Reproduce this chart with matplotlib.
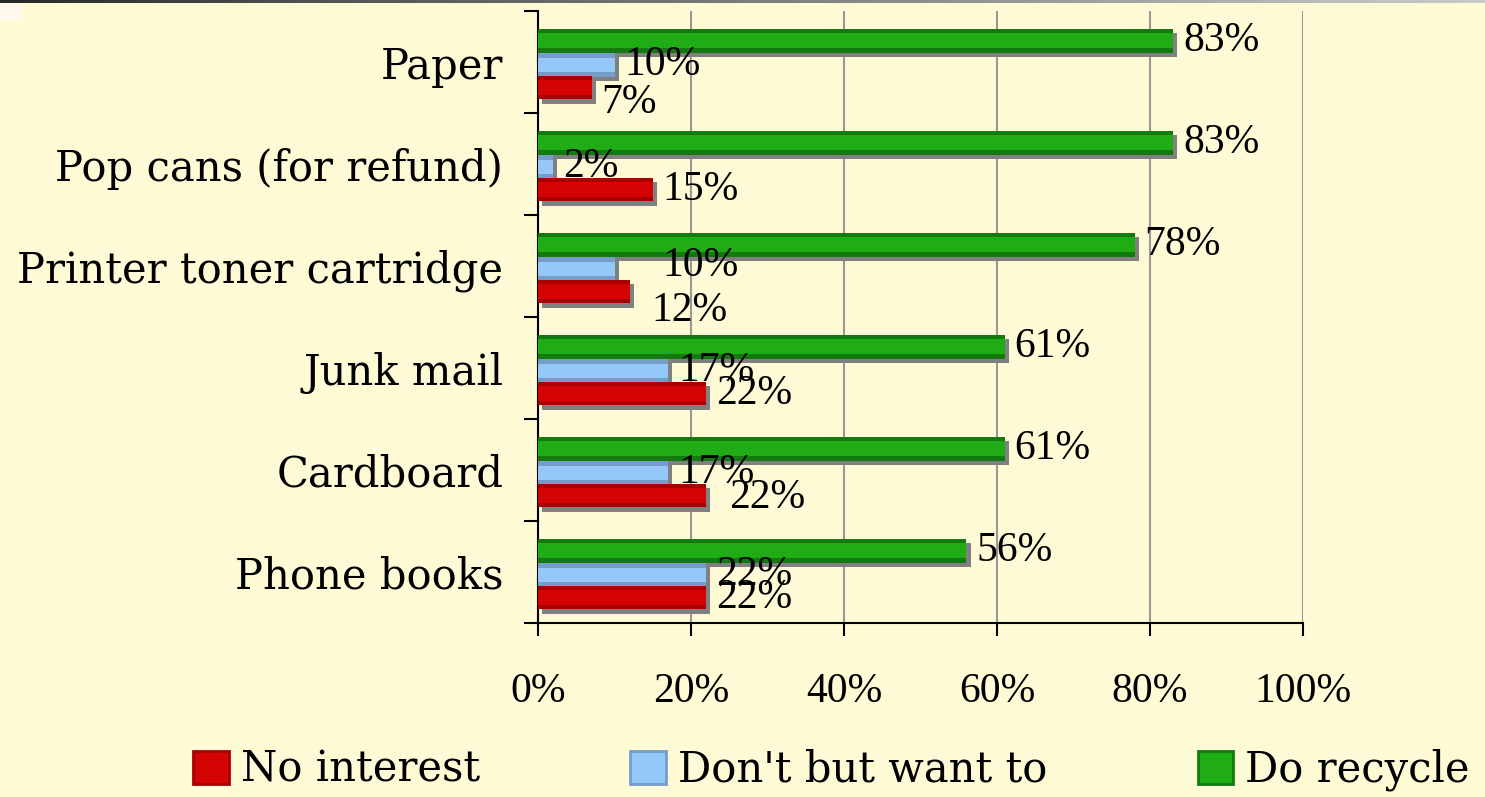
### IMPORTS
import matplotlib.pyplot as plt
import matplotlib.patheffects as pe
from matplotlib.patches import Patch, Rectangle
import numpy as np

### DATA
categories = ["Paper", "Pop cans (for refund)", "Printer toner cartridge",
              "Junk mail", "Cardboard", "Phone books"]
do_recycle = [83, 83, 78, 61, 61, 56]
want_to = [10, 2, 10, 17, 17, 22]
no_interest = [7, 15, 12, 22, 22, 22]
series_names = ["No interest", "Don't but want to", "Do recycle"]
xticks = [0, 20, 40, 60, 80, 100]

### STYLE
WORDS = ['DejaVu Serif']        # wide serif, close to the Palatino look of the original
NUMS = ['Liberation Serif']     # narrower figures
plt.rcParams['font.family'] = NUMS + WORDS
FS = 30
BG = "#FFFAD6"
# (dark edge, bright centre) per series
colours = {
    "Do recycle": ("#137A10", "#20AC14"),
    "Don't but want to": ("#759DC8", "#94C8F8"),
    "No interest": ("#A80000", "#D40404"),
}
offsets = {"Do recycle": -0.21, "Don't but want to": 0.03, "No interest": 0.25}
bar_h = 0.235
# hand tweaks for label placement, px (dx, dy) keyed by (series, row)
label_tweak = {
    ("No interest", 0): (0, 15),
    ("Don't but want to", 2): (38, -3),
    ("No interest", 2): (12, 19),
    ("No interest", 4): (13, 2),
}

fig = plt.figure(figsize=(14.85, 7.97), dpi=100, facecolor=BG)
ax = fig.add_axes([538 / 1485, 1 - 623 / 797, (1303 - 538) / 1485, (623 - 11) / 797])
ax.set_facecolor(BG)

# top strip (dark to light grey) + little box in the corner, like the slide it came from
strip = fig.add_axes([0, 1 - 3 / 797, 1, 3 / 797])
strip.imshow(np.linspace(0, 1, 256)[None, :], cmap="Greys_r", vmin=-0.25, vmax=1.6,
             aspect="auto", extent=(0, 1, 0, 1))
strip.set_axis_off()
fig.patches.append(Rectangle((0, 1 - 20 / 797), 22 / 1485, 17 / 797, transform=fig.transFigure,
                             facecolor="#FFF8EC", edgecolor="none"))

y = np.arange(len(categories))
shadow = [pe.withSimplePatchShadow(offset=(3, -3), shadow_rgbFace="#808080", alpha=1.0)]

for name, vals in [("Do recycle", do_recycle), ("Don't but want to", want_to),
                   ("No interest", no_interest)]:
    dark, bright = colours[name]
    yy = y + offsets[name]
    ax.barh(yy, vals, height=bar_h, color=dark, path_effects=shadow, zorder=3)
    ax.barh(yy, vals, height=bar_h * 0.62, color=bright, zorder=4)
    for i, v in enumerate(vals):
        dx, dy = label_tweak.get((name, i), (0, 0))
        ax.annotate(f"{v}%", (v, yy[i]), xytext=((10 + dx) * 0.72, -dy * 0.72),
                    textcoords="offset points", ha="left", va="center",
                    fontsize=FS, zorder=5)

ax.set_xlim(0, 100)
ax.set_ylim(len(categories) - 0.5, -0.5)
ax.set_xticks(xticks)
ax.set_xticklabels([f"{t}%" for t in xticks], fontsize=FS)
ax.tick_params(axis="x", length=9, width=1.5, pad=27, direction="out")
ax.set_yticks(np.arange(len(categories) + 1) - 0.5)
ax.set_yticklabels([])
ax.tick_params(axis="y", which="major", length=10, width=1.5)
ax.set_yticks(y, minor=True)
ax.set_yticklabels(categories, minor=True, fontsize=FS, family=WORDS)
ax.tick_params(axis="y", which="minor", length=0, pad=25)

ax.grid(axis="x", color="#999999", linewidth=1.5, zorder=0)
ax.spines["top"].set_visible(False)
ax.spines["right"].set_visible(False)
ax.spines["left"].set_linewidth(1.5)
ax.spines["bottom"].set_linewidth(1.5)

handles = [Patch(facecolor=colours[n][1], edgecolor=colours[n][0], linewidth=2) for n in series_names]
fig.legend(handles, series_names, ncol=3, loc="center", bbox_to_anchor=(0.56, 1 - 770 / 797),
           frameon=False, prop={'family': WORDS, 'size': FS}, handlelength=0.85, handleheight=0.85,
           handletextpad=0.3, columnspacing=3.6)

fig.savefig("out.png", dpi=100, facecolor=BG)
